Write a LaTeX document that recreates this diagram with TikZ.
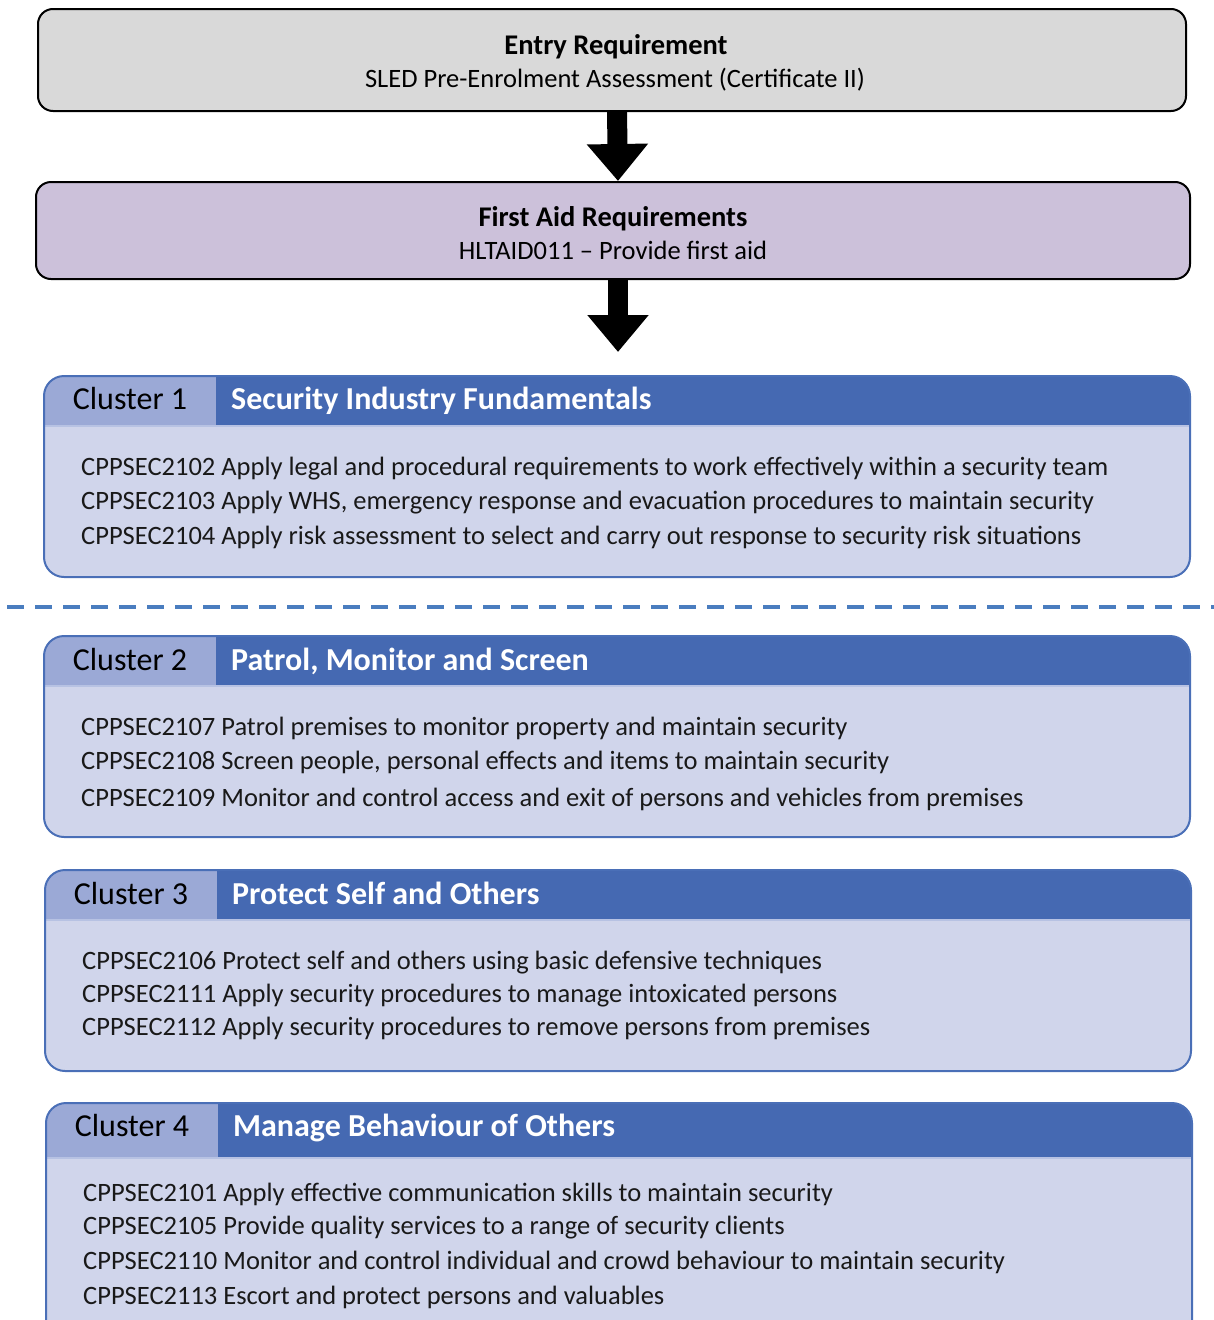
\documentclass[tikz,border=0pt]{standalone}
\usepackage{fontspec}
\setmainfont{Carlito}
\usetikzlibrary{arrows.meta}
\definecolor{boxgray}{HTML}{D9D9D9}
\definecolor{boxpurple}{HTML}{CCC1DA}
\definecolor{hdark}{HTML}{4569B2}
\definecolor{hlight}{HTML}{9BA9D6}
\definecolor{bodyc}{HTML}{D0D5EB}
\definecolor{bordc}{HTML}{4A6FB7}
\definecolor{sepc}{HTML}{B7C2E3}
\definecolor{dashc}{HTML}{4A7DBF}
\begin{document}
\begin{tikzpicture}[x=1pt,y=-1pt,
  topbox/.style={draw=black, line width=2pt, rounded corners=15pt, inner sep=0pt},
  toptext/.style={font=\fontsize{26.5}{30}\selectfont, anchor=base, inner sep=0pt},
  toptitle/.style={font=\fontsize{28.5}{32}\selectfont\bfseries, anchor=base, inner sep=0pt},
  blockarrow/.style={line width=20pt, -{Triangle[width=59pt,length=37pt]}},
  cluster/.style n args={2}{draw=bordc, line width=2pt, fill=bodyc, rounded corners=20pt, inner sep=0pt,
    path picture={
      \fill[hdark, sharp corners] (path picture bounding box.north west) rectangle ([yshift=-#1]path picture bounding box.north east);
      \fill[hlight, sharp corners] (path picture bounding box.north west) rectangle ([xshift=#2,yshift=-#1]path picture bounding box.north west);
      \draw[sepc, line width=1.5pt, sharp corners] ([yshift=-#1]path picture bounding box.north west) -- ([yshift=-#1]path picture bounding box.north east);
    }},
  clabel/.style={font=\fontsize{32}{36}\selectfont, anchor=base, inner sep=0pt},
  ctitle/.style={font=\fontsize{32}{36}\selectfont\bfseries, text=white, anchor=base west, inner sep=0pt},
  cline/.style={font=\fontsize{26.5}{30}\selectfont, text=black!90, anchor=base west, inner sep=0pt},
  dashline/.style={draw=dashc, line width=3.5pt, dash pattern=on 17pt off 11pt}
]
\useasboundingbox (0,0) rectangle (1214,1320);

% top boxes
\node[topbox, fill=boxgray, minimum width=1148pt, minimum height=102pt] (b1) at (612,60) {};
\node[toptitle] (b1t) at (616,54) {Entry Requirement};
\node[toptext] (b1s) at (615,87) {SLED Pre-Enrolment Assessment (Certificate II)};

\node[topbox, fill=boxpurple, minimum width=1154pt, minimum height=97pt] (b2) at (613,230.5) {};
\node[toptitle] (b2t) at (613,226) {First Aid Requirements};
\node[toptext] (b2s) at (613,259) {HLTAID011 -- Provide first aid};

\coordinate (a2end) at (618,352);
\draw[blockarrow] ([xshift=5pt]b1.south) -- ([xshift=5pt]b2.north);
\draw[blockarrow] ([xshift=5pt]b2.south) -- (a2end);

% cluster 1
\node[cluster={50pt}{172pt}, minimum width=1146pt, minimum height=201pt] (c1) at (617,476.5) {};
\node[clabel] (c1l) at (130,409) {Cluster 1};
\node[ctitle] (c1t) at (231,409) {Security Industry Fundamentals};
\node[cline] (c1a) at (81,475) {CPPSEC2102 Apply legal and procedural requirements to work effectively within a security team};
\node[cline] (c1b) at (81,509) {CPPSEC2103 Apply WHS, emergency response and evacuation procedures to maintain security};
\node[cline] (c1c) at (81,544) {CPPSEC2104 Apply risk assessment to select and carry out response to security risk situations};

% dashed separator
\coordinate (d1) at (7,607);
\coordinate (d2) at (1214,607);
\draw[dashline] (d1) -- (d2);

% cluster 2
\node[cluster={50pt}{172pt}, minimum width=1146pt, minimum height=201pt] (c2) at (617,736.5) {};
\node[clabel] (c2l) at (130,670) {Cluster 2};
\node[ctitle] (c2t) at (231,670) {Patrol, Monitor and Screen};
\node[cline] (c2a) at (81,735) {CPPSEC2107 Patrol premises to monitor property and maintain security};
\node[cline] (c2b) at (81,769) {CPPSEC2108 Screen people, personal effects and items to maintain security};
\node[cline] (c2c) at (81,806) {CPPSEC2109 Monitor and control access and exit of persons and vehicles from premises};

% cluster 3
\node[cluster={50pt}{172pt}, minimum width=1146pt, minimum height=201pt] (c3) at (618,970.5) {};
\node[clabel] (c3l) at (131,904) {Cluster 3};
\node[ctitle] (c3t) at (232,904) {Protect Self and Others};
\node[cline] (c3a) at (82,969) {CPPSEC2106 Protect self and others using basic defensive techniques};
\node[cline] (c3b) at (82,1002) {CPPSEC2111 Apply security procedures to manage intoxicated persons};
\node[cline] (c3c) at (82,1035) {CPPSEC2112 Apply security procedures to remove persons from premises};

% cluster 4
\node[cluster={55pt}{172pt}, minimum width=1146pt, minimum height=237pt] (c4) at (619,1221.5) {};
\node[clabel] (c4l) at (132,1136) {Cluster 4};
\node[ctitle] (c4t) at (233,1136) {Manage Behaviour of Others};
\node[cline] (c4a) at (83,1201) {CPPSEC2101 Apply effective communication skills to maintain security};
\node[cline] (c4b) at (83,1234) {CPPSEC2105 Provide quality services to a range of security clients};
\node[cline] (c4c) at (83,1269) {CPPSEC2110 Monitor and control individual and crowd behaviour to maintain security};
\node[cline] (c4d) at (83,1304) {CPPSEC2113 Escort and protect persons and valuables};
\end{tikzpicture}
\end{document}
